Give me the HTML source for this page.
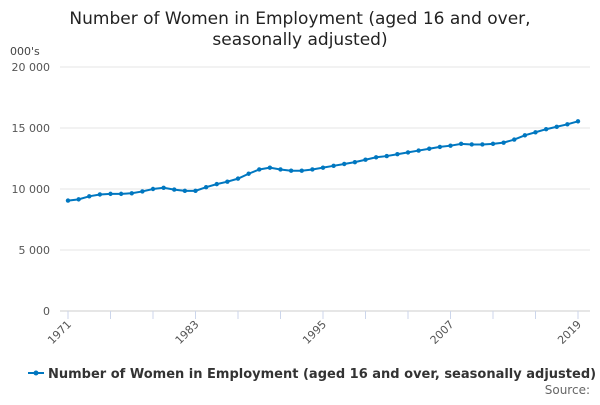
<!DOCTYPE html>
<html><head><meta charset="utf-8"><style>
body{margin:0;background:#fff;font-family:"Liberation Sans","DejaVu Sans",sans-serif}
svg text{font-family:"DejaVu Sans","Liberation Sans",sans-serif}
</style></head><body>
<svg id="c" width="600" height="400">
<text x="300" y="24" text-anchor="middle" font-size="17" fill="#222">Number of Women in Employment (aged 16 and over,</text>
<text x="300" y="45" text-anchor="middle" font-size="17" fill="#222">seasonally adjusted)</text>
<text x="10" y="55" font-size="11" fill="#444">000's</text>
<g id="grid"></g><g id="xax"></g><g id="series"></g>
<g>
<line x1="28" y1="373" x2="44" y2="373" stroke="#0077c0" stroke-width="2"/>
<circle cx="36" cy="373" r="2.5" fill="#0077c0"/>
<text x="48" y="378" font-size="13" font-weight="bold" fill="#333">Number of Women in Employment (aged 16 and over, seasonally adjusted)</text>
</g>
<text x="590" y="394" text-anchor="end" font-size="12" fill="#666">Source:</text>
</svg>
<script>
const years=[];for(let y=1971;y<=2019;y++)years.push(y);
const values=[9050,9150,9400,9550,9600,9600,9650,9800,10000,10100,9950,9850,9850,10150,10400,10600,10850,11250,11600,11750,11600,11500,11500,11600,11750,11900,12050,12200,12400,12600,12700,12850,13000,13150,13300,13450,13550,13700,13650,13650,13700,13800,14050,14400,14650,14900,15100,15300,15550];
const yTicks=[0,5000,10000,15000,20000];
const yTickLabels=["0","5 000","10 000","15 000","20 000"];
const xLabels=[1971,1983,1995,2007,2019];
const NS="http://www.w3.org/2000/svg";
const x0=68,x1=578,yb=311,yt=67;
const xs=y=>x0+(y-1971)/(2019-1971)*(x1-x0);
const ys=v=>yb-v/20000*(yb-yt);
function mk(t,a,p){const e=document.createElementNS(NS,t);for(const k in a)e.setAttribute(k,a[k]);p.appendChild(e);return e;}
const g=document.getElementById('grid');
yTicks.forEach((t,i)=>{
 const l=mk('line',{x1:x0-8,x2:590,y1:ys(t),y2:ys(t),stroke:t===0?'#ccc':'#e6e6e6'},g);
 
 
 const tx=mk('text',{x:x0-18,y:ys(t)+4,'text-anchor':'end','font-size':11,fill:'#555'},g);
 tx.textContent=yTickLabels[i];
 
 
});
const xa=document.getElementById('xax');
for(let y=1971;y<=2019;y+=4){const l=mk('line',{x1:xs(y),x2:xs(y),y1:yb,y2:yb+8,stroke:'#ccd6eb'},xa);
 
 }
xLabels.forEach(y=>{const t=mk('text',{x:xs(y)+4,y:yb+14,'text-anchor':'end','font-size':11,fill:'#555',transform:`rotate(-45 ${xs(y)+4} ${yb+14})`},xa);
 t.textContent=y;
 
 });
const s=document.getElementById('series');
const p=mk('path',{d:values.map((v,i)=>(i?'L':'M')+xs(years[i])+' '+ys(v)).join(''),fill:'none',stroke:'#0077c0','stroke-width':2},s);


values.forEach((v,i)=>{const c=mk('circle',{cx:xs(years[i]),cy:ys(v),r:2.2,fill:'#0077c0'},s);
 
 });
</script>
</body></html>
